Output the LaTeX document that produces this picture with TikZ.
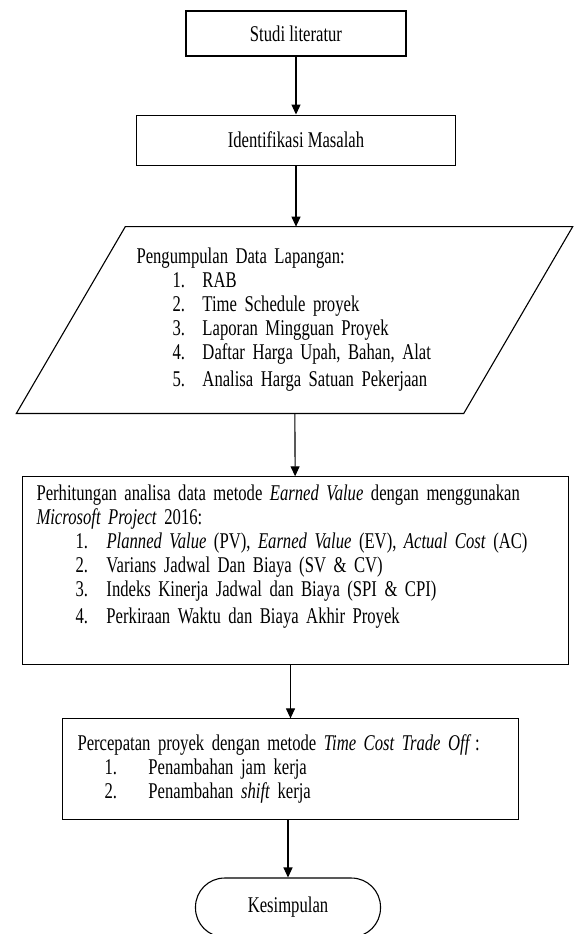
\documentclass[tikz,border=0pt]{standalone}
\usepackage{fontspec}
\setmainfont{Liberation Serif}[FakeStretch=0.74]
\usetikzlibrary{positioning, arrows.meta, calc}
\newcommand{\butir}[3]{\hspace*{#1}\makebox[#2][l]{#3}}

\begin{document}
\begin{tikzpicture}[x=1pt, y=1pt, >={Triangle[length=10pt,width=9pt]},
    every node/.style={font=\fontsize{22.5pt}{24pt}\selectfont},
    proses/.style={draw, rectangle, line width=1.1pt},
    alur/.style={->, line width=1.1pt}]
  \useasboundingbox (0,0) rectangle (573,934);
  \node [proses, minimum width=220pt, minimum height=45pt] (studi) at (296,900.5) {Studi literatur};
  \node [proses, minimum width=319pt, minimum height=50pt, below=58pt of studi] (identifikasi) {Identifikasi Masalah};
  \node [minimum width=338pt, minimum height=186.5pt, text width=316pt, inner sep=11pt, align=left,
         below=61pt of identifikasi, xshift=-1.5pt] (data) {Pengumpulan Data Lapangan:\\
    \butir{36pt}{30pt}{1.}RAB\\
    \butir{36pt}{30pt}{2.}Time Schedule proyek\\
    \butir{36pt}{30pt}{3.}Laporan Mingguan Proyek\\
    \butir{36pt}{30pt}{4.}Daftar Harga Upah, Bahan, Alat\\[3pt]
    \butir{36pt}{30pt}{5.}Analisa Harga Satuan Pekerjaan};
  \draw [line width=1.1pt] (data.north west) -- ($(data.north east)+(109,0)$) -- (data.south east)
    -- ($(data.south west)+(-109,0)$) -- cycle;
  \node [proses, minimum width=546pt, minimum height=188pt, text width=518pt, inner xsep=14pt, align=left,
         below=62.75pt of data, xshift=1pt] (hitung) {Perhitungan analisa data metode \textit{Earned Value} dengan menggunakan\\
    \textit{Microsoft Project} 2016:\\
    \butir{39pt}{31pt}{1.}\textit{Planned Value} (PV), \textit{Earned Value} (EV), \textit{Actual Cost} (AC)\\
    \butir{39pt}{31pt}{2.}Varians Jadwal Dan Biaya (SV \& CV)\\
    \butir{39pt}{31pt}{3.}Indeks Kinerja Jadwal dan Biaya (SPI \& CPI)\\[3pt]
    \butir{39pt}{31pt}{4.}Perkiraan Waktu dan Biaya Akhir Proyek\\[10pt]~};
  \node [proses, minimum width=456pt, minimum height=101pt, text width=426pt, inner xsep=15pt, align=left,
         below=53pt of hitung, xshift=-5pt] (tcto) {Percepatan proyek dengan metode \textit{Time Cost Trade Off}\,:\\
    \butir{27pt}{44pt}{1.}Penambahan jam kerja\\
    \butir{27pt}{44pt}{2.}Penambahan \textit{shift} kerja};
  \node [proses, rounded corners=29pt, minimum width=185pt, minimum height=59pt,
         below=57pt of tcto, xshift=-2.5pt] (kesimpulan) {Kesimpulan};
  \draw [alur] (studi) -- (identifikasi);
  \draw [alur] (identifikasi.south) -- (identifikasi.south |- data.north);
  \draw [alur] (data) -- (hitung);
  \draw [alur] (tcto.north |- hitung.south) -- (tcto);
  \draw [alur] (kesimpulan.north |- tcto.south) -- (kesimpulan);
\end{tikzpicture}
\end{document}
